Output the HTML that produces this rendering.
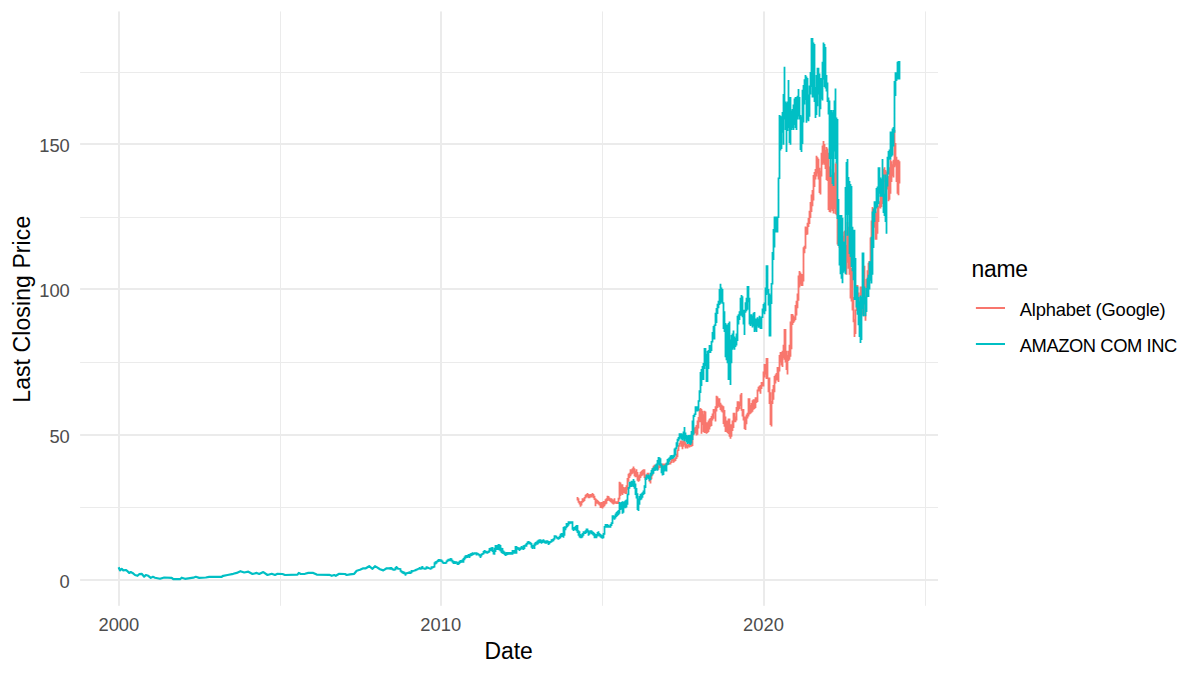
<!DOCTYPE html>
<html><head><meta charset="utf-8"><style>
html,body{margin:0;padding:0;background:#fff;overflow:hidden;}
svg{display:block;}
text{font-family:"Liberation Sans",sans-serif;}
</style></head><body>
<svg width="1200" height="675" viewBox="0 0 1200 675">
<rect width="1200" height="675" fill="#fff"/>
<rect x="80.1" y="72" width="857.90" height="1" fill="#EBEBEB"/><rect x="80.1" y="217" width="857.90" height="1" fill="#EBEBEB"/><rect x="80.1" y="362" width="857.90" height="1" fill="#EBEBEB"/><rect x="80.1" y="507" width="857.90" height="1" fill="#EBEBEB"/><rect x="280" y="11.46" width="1" height="594.34" fill="#EBEBEB"/><rect x="602" y="11.46" width="1" height="594.34" fill="#EBEBEB"/><rect x="925" y="11.46" width="1" height="594.34" fill="#EBEBEB"/><rect x="80.1" y="579" width="857.90" height="2" fill="#EBEBEB"/><rect x="80.1" y="434" width="857.90" height="2" fill="#EBEBEB"/><rect x="80.1" y="288" width="857.90" height="2" fill="#EBEBEB"/><rect x="80.1" y="143" width="857.90" height="2" fill="#EBEBEB"/><rect x="118" y="11.46" width="2" height="594.34" fill="#EBEBEB"/><rect x="440" y="11.46" width="2" height="594.34" fill="#EBEBEB"/><rect x="763" y="11.46" width="2" height="594.34" fill="#EBEBEB"/>
<g fill="none" stroke-width="2.2" stroke-linejoin="round" stroke-linecap="butt"></g><path d="M576.6,497.0h1.8V500.6h-1.8zM577.6,498.3h1.8V502.8h-1.8zM578.6,501.0h1.8V504.6h-1.8zM579.6,501.9h1.8V506.8h-1.8zM580.6,501.0h1.8V505.4h-1.8zM581.6,498.3h1.8V502.8h-1.8zM582.6,498.3h1.8V501.9h-1.8zM583.6,497.1h1.8V501.0h-1.8zM584.6,494.8h1.8V498.6h-1.8zM585.6,493.9h1.8V497.4h-1.8zM586.6,493.0h1.8V496.6h-1.8zM587.6,493.9h1.8V498.3h-1.8zM588.6,494.8h1.8V498.3h-1.8zM589.6,493.9h1.8V497.4h-1.8zM590.6,493.9h1.8V497.4h-1.8zM591.6,493.0h1.8V496.6h-1.8zM592.6,493.9h1.8V498.3h-1.8zM593.6,495.7h1.8V500.1h-1.8zM594.6,498.3h1.8V506.3h-1.8zM595.6,499.2h1.8V503.7h-1.8zM596.6,500.1h1.8V503.7h-1.8zM597.6,501.0h1.8V504.6h-1.8zM598.6,501.9h1.8V505.4h-1.8zM599.6,502.8h1.8V508.1h-1.8zM600.6,501.9h1.8V508.1h-1.8zM601.6,501.9h1.8V508.6h-1.8zM602.6,501.0h1.8V507.2h-1.8zM603.6,501.0h1.8V506.3h-1.8zM604.6,499.2h1.8V504.6h-1.8zM605.6,498.3h1.8V503.7h-1.8zM606.6,495.7h1.8V501.0h-1.8zM607.6,496.1h1.8V500.1h-1.8zM608.6,497.4h1.8V501.0h-1.8zM609.6,498.3h1.8V501.9h-1.8zM610.6,498.3h1.8V502.8h-1.8zM611.6,499.2h1.8V503.7h-1.8zM612.6,500.1h1.8V504.6h-1.8zM613.6,498.3h1.8V503.7h-1.8zM614.6,501.2h1.8V503.4h-1.8zM615.6,501.2h1.8V503.9h-1.8zM616.6,501.2h1.8V503.9h-1.8zM617.6,497.7h1.8V503.9h-1.8zM618.6,481.7h1.8V499.4h-1.8zM619.6,482.6h1.8V495.9h-1.8zM620.6,484.3h1.8V494.1h-1.8zM621.6,484.3h1.8V495.0h-1.8zM622.6,487.0h1.8V493.2h-1.8zM623.6,487.9h1.8V493.2h-1.8zM624.6,487.0h1.8V494.1h-1.8zM625.6,485.2h1.8V494.1h-1.8zM626.6,478.1h1.8V489.7h-1.8zM627.6,473.7h1.8V481.7h-1.8zM628.6,472.8h1.8V478.1h-1.8zM629.6,469.2h1.8V476.3h-1.8zM630.6,469.2h1.8V474.6h-1.8zM631.6,468.3h1.8V473.7h-1.8zM632.6,466.6h1.8V472.8h-1.8zM633.6,468.3h1.8V476.3h-1.8zM634.6,471.0h1.8V477.2h-1.8zM635.6,469.2h1.8V477.2h-1.8zM636.6,471.9h1.8V480.8h-1.8zM637.6,475.4h1.8V481.7h-1.8zM638.6,474.6h1.8V480.8h-1.8zM639.6,471.9h1.8V478.1h-1.8zM640.6,471.0h1.8V476.3h-1.8zM641.6,470.1h1.8V475.4h-1.8zM642.6,469.2h1.8V474.6h-1.8zM643.6,469.2h1.8V478.1h-1.8zM644.6,475.4h1.8V479.9h-1.8zM645.6,474.6h1.8V477.2h-1.8zM646.6,472.8h1.8V478.1h-1.8zM647.6,472.8h1.8V478.1h-1.8zM648.6,476.3h1.8V481.7h-1.8zM649.6,477.8h1.8V483.4h-1.8zM650.6,472.8h1.8V479.3h-1.8zM651.6,468.3h1.8V475.4h-1.8zM652.6,465.7h1.8V470.1h-1.8zM653.6,464.8h1.8V469.2h-1.8zM654.6,466.2h1.8V468.9h-1.8zM655.6,465.8h1.8V469.2h-1.8zM656.6,465.5h1.8V469.5h-1.8zM657.6,465.3h1.8V469.8h-1.8zM658.6,463.6h1.8V468.0h-1.8zM659.6,463.6h1.8V467.8h-1.8zM660.6,463.6h1.8V467.6h-1.8zM661.6,463.6h1.8V467.4h-1.8zM662.6,463.6h1.8V467.2h-1.8zM663.6,463.6h1.8V467.1h-1.8zM664.6,463.6h1.8V467.1h-1.8zM665.6,462.7h1.8V465.3h-1.8zM666.6,462.7h1.8V465.0h-1.8zM667.6,462.7h1.8V464.7h-1.8zM668.6,462.7h1.8V464.4h-1.8zM669.6,461.5h1.8V464.4h-1.8zM670.6,458.2h1.8V463.0h-1.8zM671.6,458.2h1.8V460.9h-1.8zM672.6,458.2h1.8V462.7h-1.8zM673.6,458.2h1.8V461.8h-1.8zM674.6,457.3h1.8V460.9h-1.8zM675.6,453.8h1.8V459.1h-1.8zM676.6,449.4h1.8V457.3h-1.8zM677.6,444.9h1.8V450.9h-1.8zM678.6,442.8h1.8V446.7h-1.8zM679.6,440.4h1.8V444.3h-1.8zM680.6,440.4h1.8V446.7h-1.8zM681.6,441.3h1.8V449.3h-1.8zM682.6,440.4h1.8V446.7h-1.8zM683.6,439.6h1.8V444.9h-1.8zM684.6,442.2h1.8V448.4h-1.8zM685.6,444.0h1.8V447.6h-1.8zM686.6,444.9h1.8V448.4h-1.8zM687.6,444.0h1.8V446.7h-1.8zM688.6,444.0h1.8V447.6h-1.8zM689.6,444.0h1.8V446.7h-1.8zM690.6,443.1h1.8V446.7h-1.8zM691.6,433.8h1.8V446.0h-1.8zM692.6,428.9h1.8V435.2h-1.8zM693.6,427.6h1.8V433.8h-1.8zM694.6,426.7h1.8V433.0h-1.8zM695.6,425.0h1.8V435.6h-1.8zM696.6,420.5h1.8V434.7h-1.8zM697.6,417.0h1.8V428.5h-1.8zM698.6,409.0h1.8V422.3h-1.8zM699.6,408.0h1.8V422.3h-1.8zM700.6,409.0h1.8V433.8h-1.8zM701.6,410.8h1.8V425.0h-1.8zM702.6,414.3h1.8V432.0h-1.8zM703.6,410.8h1.8V433.0h-1.8zM704.6,411.6h1.8V433.0h-1.8zM705.6,422.3h1.8V433.8h-1.8zM706.6,422.3h1.8V433.0h-1.8zM707.6,420.5h1.8V432.0h-1.8zM708.6,418.7h1.8V429.4h-1.8zM709.6,417.9h1.8V426.7h-1.8zM710.6,416.0h1.8V425.9h-1.8zM711.6,413.4h1.8V420.5h-1.8zM712.6,409.0h1.8V418.7h-1.8zM713.6,409.0h1.8V413.4h-1.8zM714.6,406.3h1.8V421.4h-1.8zM715.6,395.7h1.8V411.6h-1.8zM716.6,396.5h1.8V408.0h-1.8zM717.6,398.3h1.8V406.3h-1.8zM718.6,398.3h1.8V407.2h-1.8zM719.6,402.8h1.8V409.9h-1.8zM720.6,404.5h1.8V411.6h-1.8zM721.6,405.4h1.8V412.5h-1.8zM722.6,406.3h1.8V424.0h-1.8zM723.6,409.9h1.8V426.7h-1.8zM724.6,416.6h1.8V432.0h-1.8zM725.6,420.4h1.8V432.0h-1.8zM726.6,420.4h1.8V433.0h-1.8zM727.6,418.5h1.8V433.9h-1.8zM728.6,418.5h1.8V436.8h-1.8zM729.6,424.3h1.8V438.7h-1.8zM730.6,424.3h1.8V436.8h-1.8zM731.6,420.4h1.8V431.0h-1.8zM732.6,412.7h1.8V428.1h-1.8zM733.6,412.7h1.8V422.3h-1.8zM734.6,416.6h1.8V422.3h-1.8zM735.6,407.0h1.8V420.4h-1.8zM736.6,401.2h1.8V411.8h-1.8zM737.6,401.2h1.8V410.8h-1.8zM738.6,402.1h1.8V408.9h-1.8zM739.6,394.4h1.8V406.0h-1.8zM740.6,393.0h1.8V410.8h-1.8zM741.6,408.9h1.8V416.6h-1.8zM742.6,408.9h1.8V420.4h-1.8zM743.6,416.6h1.8V429.1h-1.8zM744.6,416.6h1.8V430.0h-1.8zM745.6,414.6h1.8V424.3h-1.8zM746.6,412.7h1.8V418.5h-1.8zM747.6,398.3h1.8V416.6h-1.8zM748.6,398.3h1.8V414.6h-1.8zM749.6,405.0h1.8V413.7h-1.8zM750.6,403.1h1.8V412.7h-1.8zM751.6,400.2h1.8V411.8h-1.8zM752.6,399.2h1.8V409.8h-1.8zM753.6,399.2h1.8V408.9h-1.8zM754.6,397.3h1.8V407.9h-1.8zM755.6,397.3h1.8V403.1h-1.8zM756.6,389.6h1.8V402.1h-1.8zM757.6,386.7h1.8V391.5h-1.8zM758.6,385.8h1.8V391.5h-1.8zM759.6,385.0h1.8V393.8h-1.8zM760.6,382.0h1.8V389.0h-1.8zM761.6,382.0h1.8V386.4h-1.8zM762.6,371.5h1.8V386.4h-1.8zM763.6,364.0h1.8V377.5h-1.8zM764.6,364.0h1.8V374.5h-1.8zM765.6,358.0h1.8V379.0h-1.8zM766.6,358.0h1.8V379.0h-1.8zM767.6,377.5h1.8V392.3h-1.8zM768.6,377.5h1.8V404.0h-1.8zM769.6,392.3h1.8V425.0h-1.8zM770.6,401.0h1.8V426.4h-1.8zM771.6,389.3h1.8V404.0h-1.8zM772.6,385.0h1.8V399.7h-1.8zM773.6,376.0h1.8V392.3h-1.8zM774.6,374.5h1.8V383.4h-1.8zM775.6,373.0h1.8V380.4h-1.8zM776.6,367.0h1.8V380.4h-1.8zM777.6,367.0h1.8V382.0h-1.8zM778.6,355.0h1.8V371.5h-1.8zM779.6,352.0h1.8V362.6h-1.8zM780.6,352.0h1.8V365.6h-1.8zM781.6,350.8h1.8V367.0h-1.8zM782.6,344.8h1.8V358.0h-1.8zM783.6,329.0h1.8V359.7h-1.8zM784.6,329.0h1.8V362.6h-1.8zM785.6,350.8h1.8V370.0h-1.8zM786.6,355.0h1.8V374.5h-1.8zM787.6,350.8h1.8V361.0h-1.8zM788.6,344.8h1.8V359.7h-1.8zM789.6,321.6h1.8V356.7h-1.8zM790.6,314.0h1.8V349.3h-1.8zM791.6,314.0h1.8V325.0h-1.8zM792.6,315.6h1.8V323.0h-1.8zM793.6,317.0h1.8V321.6h-1.8zM794.6,305.0h1.8V320.0h-1.8zM795.6,300.8h1.8V315.6h-1.8zM796.6,293.4h1.8V308.2h-1.8zM797.6,275.5h1.8V300.8h-1.8zM798.6,271.0h1.8V287.4h-1.8zM799.6,272.5h1.8V284.4h-1.8zM800.6,274.0h1.8V286.0h-1.8zM801.6,274.0h1.8V286.0h-1.8zM802.6,247.3h1.8V281.5h-1.8zM803.6,245.8h1.8V253.2h-1.8zM804.6,226.5h1.8V248.8h-1.8zM805.6,227.0h1.8V235.0h-1.8zM806.6,222.7h1.8V234.6h-1.8zM807.6,218.0h1.8V227.0h-1.8zM808.6,210.8h1.8V224.0h-1.8zM809.6,202.0h1.8V218.0h-1.8zM810.6,194.4h1.8V212.0h-1.8zM811.6,190.0h1.8V206.3h-1.8zM812.6,175.0h1.8V200.4h-1.8zM813.6,172.0h1.8V187.0h-1.8zM814.6,169.0h1.8V179.6h-1.8zM815.6,155.8h1.8V176.6h-1.8zM816.6,157.3h1.8V173.6h-1.8zM817.6,158.8h1.8V179.6h-1.8zM818.6,167.7h1.8V193.0h-1.8zM819.6,170.7h1.8V194.4h-1.8zM820.6,152.8h1.8V176.6h-1.8zM821.6,145.4h1.8V164.7h-1.8zM822.6,141.0h1.8V163.2h-1.8zM823.6,144.0h1.8V164.7h-1.8zM824.6,149.9h1.8V169.0h-1.8zM825.6,147.0h1.8V180.0h-1.8zM826.6,148.6h1.8V181.0h-1.8zM827.6,152.8h1.8V210.0h-1.8zM828.6,166.5h1.8V212.0h-1.8zM829.6,175.0h1.8V212.6h-1.8zM830.6,175.0h1.8V209.0h-1.8zM831.6,169.0h1.8V211.0h-1.8zM832.6,184.0h1.8V213.4h-1.8zM833.6,172.4h1.8V209.0h-1.8zM834.6,163.5h1.8V214.0h-1.8zM835.6,162.0h1.8V215.2h-1.8zM836.6,213.8h1.8V244.6h-1.8zM837.6,222.0h1.8V246.0h-1.8zM838.6,225.0h1.8V248.0h-1.8zM839.6,225.0h1.8V250.0h-1.8zM840.6,228.0h1.8V250.0h-1.8zM841.6,232.0h1.8V245.0h-1.8zM842.6,235.7h1.8V243.0h-1.8zM843.6,231.0h1.8V241.6h-1.8zM844.6,230.0h1.8V260.0h-1.8zM845.6,245.0h1.8V274.7h-1.8zM846.6,222.0h1.8V262.8h-1.8zM847.6,226.7h1.8V268.8h-1.8zM848.6,252.0h1.8V274.7h-1.8zM849.6,256.5h1.8V298.5h-1.8zM850.6,268.0h1.8V301.5h-1.8zM851.6,271.0h1.8V310.4h-1.8zM852.6,297.0h1.8V322.3h-1.8zM853.6,319.3h1.8V337.0h-1.8zM854.6,309.6h1.8V334.0h-1.8zM855.6,285.0h1.8V311.1h-1.8zM856.6,285.0h1.8V300.0h-1.8zM857.6,292.5h1.8V303.0h-1.8zM858.6,301.5h1.8V310.4h-1.8zM859.6,286.6h1.8V304.4h-1.8zM860.6,286.6h1.8V296.2h-1.8zM861.6,294.8h1.8V314.8h-1.8zM862.6,297.8h1.8V316.3h-1.8zM863.6,265.8h1.8V301.1h-1.8zM864.6,296.1h1.8V320.8h-1.8zM865.6,279.0h1.8V297.6h-1.8zM866.6,270.3h1.8V282.0h-1.8zM867.6,262.8h1.8V279.0h-1.8zM868.6,260.9h1.8V274.7h-1.8zM869.6,237.6h1.8V262.4h-1.8zM870.6,220.4h1.8V239.1h-1.8zM871.6,207.0h1.8V227.8h-1.8zM872.6,208.6h1.8V219.0h-1.8zM873.6,210.0h1.8V227.8h-1.8zM874.6,211.6h1.8V239.7h-1.8zM875.6,213.0h1.8V239.7h-1.8zM876.6,207.0h1.8V233.8h-1.8zM877.6,206.2h1.8V222.0h-1.8zM878.6,201.2h1.8V207.8h-1.8zM879.6,195.3h1.8V208.6h-1.8zM880.6,192.3h1.8V207.0h-1.8zM881.6,189.4h1.8V204.0h-1.8zM882.6,168.7h1.8V198.3h-1.8zM883.6,167.2h1.8V182.0h-1.8zM884.6,170.0h1.8V195.3h-1.8zM885.6,171.6h1.8V189.4h-1.8zM886.6,176.0h1.8V189.4h-1.8zM887.6,176.0h1.8V201.2h-1.8zM888.6,167.2h1.8V199.7h-1.8zM889.6,159.8h1.8V193.8h-1.8zM890.6,161.3h1.8V182.0h-1.8zM891.6,164.2h1.8V176.0h-1.8zM892.6,159.8h1.8V177.5h-1.8zM893.6,130.0h1.8V167.2h-1.8zM894.6,143.0h1.8V165.7h-1.8zM895.6,156.8h1.8V182.0h-1.8zM896.6,159.8h1.8V193.8h-1.8zM897.6,159.8h1.8V195.3h-1.8zM898.6,161.3h1.8V183.5h-1.8z" fill="#F8766D"/><g fill="none" stroke-width="2.2" stroke-linejoin="round" stroke-linecap="butt"><path d="M118.6,567.2 L120.0,570.4 L121.7,568.8 L123.3,570.4 L125.8,570.0 L127.5,571.2 L129.2,572.9 L130.8,572.1 L132.5,572.9 L135.0,575.0 L137.5,575.8 L139.2,574.2 L141.7,573.8 L144.2,576.7 L145.8,575.0 L148.3,575.8 L150.8,577.9 L152.9,576.8 L155.0,577.7 L160.0,578.8 L164.2,577.5 L171.7,577.9 L173.3,579.2 L180.0,579.2 L181.7,577.7 L185.0,578.8 L193.3,577.7 L195.8,576.8 L199.2,577.9 L205.8,577.5 L209.2,576.8 L221.7,576.8 L223.3,575.8 L227.5,575.0 L233.3,573.8 L236.7,572.9 L240.4,571.2 L244.2,572.5 L248.3,571.7 L252.5,574.0 L256.7,572.9 L259.2,574.0 L263.3,572.1 L267.5,575.0 L271.7,573.8 L275.0,575.0 L277.5,573.8 L282.5,574.0 L285.0,575.0 L297.5,574.6 L298.8,572.9 L300.8,574.0 L305.0,573.8 L308.3,572.9 L313.3,572.9 L316.7,574.6 L329.2,574.8 L331.7,575.8 L334.2,575.0 L335.8,575.8 L339.2,573.8 L345.0,574.0 L346.7,575.0 L350.0,574.3 L354.2,573.8 L356.7,570.8 L360.0,569.8 L363.3,568.3 L365.8,568.3 L369.2,566.2 L372.5,568.8 L375.0,566.2 L376.7,567.1 L380.0,569.2 L383.3,570.4 L386.7,568.3 L390.5,568.4" stroke="#00BFC4"/></g><path d="M389.6,567.1h1.8V569.7h-1.8zM390.6,567.1h1.8V569.7h-1.8zM391.6,567.9h1.8V570.2h-1.8zM392.6,568.7h1.8V570.7h-1.8zM393.6,568.4h1.8V570.7h-1.8zM394.6,567.1h1.8V570.2h-1.8zM395.6,566.1h1.8V568.9h-1.8zM396.6,567.1h1.8V569.5h-1.8zM397.6,567.9h1.8V569.7h-1.8zM398.6,567.9h1.8V569.7h-1.8zM399.6,568.2h1.8V571.8h-1.8zM400.6,570.2h1.8V572.8h-1.8zM401.6,571.0h1.8V573.6h-1.8zM402.6,571.3h1.8V573.9h-1.8zM403.6,571.8h1.8V574.4h-1.8zM404.6,572.8h1.8V575.7h-1.8zM405.6,572.3h1.8V574.4h-1.8zM406.6,572.0h1.8V573.9h-1.8zM407.6,571.8h1.8V573.9h-1.8zM408.6,571.3h1.8V573.9h-1.8zM409.6,571.8h1.8V573.9h-1.8zM410.6,570.0h1.8V573.3h-1.8zM411.6,570.2h1.8V572.3h-1.8zM412.6,570.1h1.8V571.8h-1.8zM413.6,569.7h1.8V571.6h-1.8zM414.6,568.9h1.8V571.3h-1.8zM415.6,568.8h1.8V570.7h-1.8zM416.6,568.2h1.8V570.3h-1.8zM417.6,567.9h1.8V569.7h-1.8zM418.6,567.1h1.8V569.5h-1.8zM419.6,567.9h1.8V569.7h-1.8zM420.6,566.6h1.8V569.5h-1.8zM421.6,566.1h1.8V569.2h-1.8zM422.6,567.4h1.8V569.2h-1.8zM423.6,567.6h1.8V569.7h-1.8zM424.6,567.6h1.8V569.7h-1.8zM425.6,566.3h1.8V569.2h-1.8zM426.6,566.6h1.8V568.5h-1.8zM427.6,567.0h1.8V569.0h-1.8zM428.6,567.5h1.8V569.3h-1.8zM429.6,567.8h1.8V569.7h-1.8zM430.6,566.3h1.8V569.2h-1.8zM431.6,566.3h1.8V568.4h-1.8zM432.6,565.9h1.8V567.9h-1.8zM433.6,562.2h1.8V567.4h-1.8zM434.6,561.2h1.8V564.5h-1.8zM435.6,560.9h1.8V563.7h-1.8zM436.6,560.1h1.8V562.4h-1.8zM437.6,559.1h1.8V561.9h-1.8zM438.6,559.1h1.8V561.4h-1.8zM439.6,559.2h1.8V561.8h-1.8zM440.6,559.5h1.8V562.0h-1.8zM441.6,560.5h1.8V563.3h-1.8zM442.6,561.8h1.8V563.9h-1.8zM443.6,562.0h1.8V563.9h-1.8zM444.6,561.9h1.8V563.9h-1.8zM445.6,560.6h1.8V563.4h-1.8zM446.6,559.5h1.8V562.1h-1.8zM447.6,558.7h1.8V561.3h-1.8zM448.6,558.7h1.8V561.3h-1.8zM449.6,557.9h1.8V561.3h-1.8zM450.6,558.2h1.8V561.5h-1.8zM451.6,559.7h1.8V562.8h-1.8zM452.6,560.7h1.8V563.9h-1.8zM453.6,561.0h1.8V563.9h-1.8zM454.6,561.3h1.8V563.9h-1.8zM455.6,561.3h1.8V563.6h-1.8zM456.6,562.0h1.8V564.9h-1.8zM457.6,561.8h1.8V564.9h-1.8zM458.6,560.7h1.8V563.9h-1.8zM459.6,560.0h1.8V563.1h-1.8zM460.6,560.0h1.8V562.8h-1.8zM461.6,559.2h1.8V562.8h-1.8zM462.6,557.9h1.8V562.8h-1.8zM463.6,556.6h1.8V560.2h-1.8zM464.6,555.3h1.8V558.7h-1.8zM465.6,555.0h1.8V557.9h-1.8zM466.6,555.0h1.8V557.9h-1.8zM467.6,554.0h1.8V557.1h-1.8zM468.6,554.0h1.8V557.9h-1.8zM469.6,553.2h1.8V556.6h-1.8zM470.6,553.0h1.8V556.1h-1.8zM471.6,552.2h1.8V555.6h-1.8zM472.6,553.1h1.8V555.0h-1.8zM473.6,552.2h1.8V554.6h-1.8zM474.6,552.2h1.8V554.5h-1.8zM475.6,552.2h1.8V555.6h-1.8zM476.6,552.7h1.8V554.8h-1.8zM477.6,553.2h1.8V555.6h-1.8zM478.6,554.0h1.8V556.6h-1.8zM479.6,554.5h1.8V557.9h-1.8zM480.6,553.5h1.8V556.6h-1.8zM481.6,553.0h1.8V555.0h-1.8zM482.6,550.9h1.8V554.5h-1.8zM483.6,550.1h1.8V553.5h-1.8zM484.6,550.4h1.8V553.0h-1.8zM485.6,550.9h1.8V553.5h-1.8zM486.6,551.4h1.8V553.7h-1.8zM487.6,550.4h1.8V553.0h-1.8zM488.6,548.0h1.8V552.4h-1.8zM489.6,547.8h1.8V550.9h-1.8zM490.6,547.3h1.8V550.9h-1.8zM491.6,547.0h1.8V552.0h-1.8zM492.6,549.9h1.8V554.6h-1.8zM493.6,547.8h1.8V554.8h-1.8zM494.6,545.0h1.8V552.0h-1.8zM495.6,545.0h1.8V549.9h-1.8zM496.6,545.0h1.8V549.9h-1.8zM497.6,543.9h1.8V549.9h-1.8zM498.6,544.2h1.8V550.4h-1.8zM499.6,545.0h1.8V551.5h-1.8zM500.6,547.8h1.8V553.0h-1.8zM501.6,548.1h1.8V553.8h-1.8zM502.6,550.4h1.8V554.0h-1.8zM503.6,551.5h1.8V555.1h-1.8zM504.6,552.5h1.8V555.9h-1.8zM505.6,552.0h1.8V555.6h-1.8zM506.6,552.0h1.8V555.1h-1.8zM507.6,552.0h1.8V554.8h-1.8zM508.6,552.0h1.8V554.8h-1.8zM509.6,552.0h1.8V554.8h-1.8zM510.6,552.0h1.8V554.8h-1.8zM511.6,549.9h1.8V554.8h-1.8zM512.6,549.9h1.8V553.8h-1.8zM513.6,549.9h1.8V553.8h-1.8zM514.6,546.0h1.8V553.8h-1.8zM515.6,546.0h1.8V553.8h-1.8zM516.6,547.0h1.8V549.4h-1.8zM517.6,547.3h1.8V549.9h-1.8zM518.6,547.8h1.8V550.9h-1.8zM519.6,547.3h1.8V549.9h-1.8zM520.6,546.0h1.8V548.9h-1.8zM521.6,546.8h1.8V549.4h-1.8zM522.6,545.2h1.8V549.9h-1.8zM523.6,545.0h1.8V548.9h-1.8zM524.6,544.2h1.8V546.8h-1.8zM525.6,542.9h1.8V546.8h-1.8zM526.6,541.6h1.8V544.7h-1.8zM527.6,541.1h1.8V543.7h-1.8zM528.6,541.6h1.8V544.2h-1.8zM529.6,542.1h1.8V544.7h-1.8zM530.6,542.9h1.8V547.8h-1.8zM531.6,544.7h1.8V548.9h-1.8zM532.6,544.7h1.8V547.8h-1.8zM533.6,543.2h1.8V548.9h-1.8zM534.6,542.1h1.8V545.7h-1.8zM535.6,541.6h1.8V544.7h-1.8zM536.6,540.6h1.8V544.7h-1.8zM537.6,539.8h1.8V543.8h-1.8zM538.6,539.3h1.8V543.0h-1.8zM539.6,539.3h1.8V543.0h-1.8zM540.6,540.3h1.8V543.7h-1.8zM541.6,539.7h1.8V543.0h-1.8zM542.6,539.3h1.8V542.3h-1.8zM543.6,540.3h1.8V543.3h-1.8zM544.6,541.0h1.8V543.7h-1.8zM545.6,540.3h1.8V543.7h-1.8zM546.6,540.3h1.8V543.0h-1.8zM547.6,541.0h1.8V545.0h-1.8zM548.6,541.3h1.8V544.3h-1.8zM549.6,540.9h1.8V543.0h-1.8zM550.6,539.3h1.8V542.4h-1.8zM551.6,539.0h1.8V541.7h-1.8zM552.6,538.2h1.8V541.3h-1.8zM553.6,535.3h1.8V539.8h-1.8zM554.6,535.3h1.8V537.2h-1.8zM555.6,535.8h1.8V538.4h-1.8zM556.6,536.9h1.8V539.3h-1.8zM557.6,537.0h1.8V539.7h-1.8zM558.6,535.7h1.8V539.0h-1.8zM559.6,533.7h1.8V538.3h-1.8zM560.6,533.0h1.8V537.0h-1.8zM561.6,533.0h1.8V537.0h-1.8zM562.6,527.0h1.8V537.7h-1.8zM563.6,526.3h1.8V535.7h-1.8zM564.6,526.3h1.8V530.3h-1.8zM565.6,523.0h1.8V528.3h-1.8zM566.6,523.0h1.8V527.0h-1.8zM567.6,521.3h1.8V525.7h-1.8zM568.6,521.3h1.8V524.3h-1.8zM569.6,521.3h1.8V523.7h-1.8zM570.6,521.3h1.8V523.7h-1.8zM571.6,521.3h1.8V529.7h-1.8zM572.6,527.0h1.8V531.0h-1.8zM573.6,527.0h1.8V530.3h-1.8zM574.6,525.9h1.8V530.3h-1.8zM575.6,525.0h1.8V531.2h-1.8zM576.6,525.0h1.8V533.0h-1.8zM577.6,530.3h1.8V535.7h-1.8zM578.6,531.2h1.8V537.4h-1.8zM579.6,533.9h1.8V538.3h-1.8zM580.6,534.8h1.8V538.3h-1.8zM581.6,533.0h1.8V537.4h-1.8zM582.6,531.2h1.8V535.7h-1.8zM583.6,531.2h1.8V533.9h-1.8zM584.6,530.3h1.8V533.9h-1.8zM585.6,528.6h1.8V533.0h-1.8zM586.6,528.6h1.8V532.1h-1.8zM587.6,530.3h1.8V535.7h-1.8zM588.6,531.2h1.8V534.8h-1.8zM589.6,530.3h1.8V533.0h-1.8zM590.6,530.3h1.8V533.9h-1.8zM591.6,531.2h1.8V534.8h-1.8zM592.6,532.1h1.8V535.7h-1.8zM593.6,533.0h1.8V538.3h-1.8zM594.6,533.9h1.8V538.3h-1.8zM595.6,533.9h1.8V538.3h-1.8zM596.6,532.1h1.8V536.6h-1.8zM597.6,531.2h1.8V535.7h-1.8zM598.6,533.0h1.8V536.6h-1.8zM599.6,533.9h1.8V537.4h-1.8zM600.6,534.8h1.8V538.3h-1.8zM601.6,534.8h1.8V538.8h-1.8zM602.6,533.0h1.8V538.3h-1.8zM603.6,525.9h1.8V534.8h-1.8zM604.6,524.1h1.8V527.7h-1.8zM605.6,524.1h1.8V527.7h-1.8zM606.6,524.1h1.8V527.7h-1.8zM607.6,525.0h1.8V527.7h-1.8zM608.6,525.9h1.8V527.7h-1.8zM609.6,524.1h1.8V527.7h-1.8zM610.6,522.3h1.8V525.9h-1.8zM611.6,515.2h1.8V524.1h-1.8zM612.6,515.2h1.8V518.8h-1.8zM613.6,516.1h1.8V519.7h-1.8zM614.6,513.5h1.8V518.5h-1.8zM615.6,512.0h1.8V517.0h-1.8zM616.6,511.0h1.8V516.0h-1.8zM617.6,510.1h1.8V515.0h-1.8zM618.6,502.1h1.8V513.7h-1.8zM619.6,503.0h1.8V510.1h-1.8zM620.6,502.1h1.8V509.2h-1.8zM621.6,501.2h1.8V513.7h-1.8zM622.6,502.1h1.8V512.8h-1.8zM623.6,501.2h1.8V508.3h-1.8zM624.6,500.3h1.8V508.3h-1.8zM625.6,499.4h1.8V507.4h-1.8zM626.6,493.8h1.8V504.8h-1.8zM627.6,487.0h1.8V495.3h-1.8zM628.6,481.7h1.8V488.8h-1.8zM629.6,481.7h1.8V487.0h-1.8zM630.6,480.8h1.8V487.0h-1.8zM631.6,480.8h1.8V486.1h-1.8zM632.6,479.0h1.8V487.0h-1.8zM633.6,480.8h1.8V488.8h-1.8zM634.6,483.4h1.8V495.0h-1.8zM635.6,487.9h1.8V498.6h-1.8zM636.6,493.2h1.8V510.1h-1.8zM637.6,498.6h1.8V511.0h-1.8zM638.6,495.9h1.8V504.8h-1.8zM639.6,494.1h1.8V500.3h-1.8zM640.6,493.2h1.8V499.4h-1.8zM641.6,492.3h1.8V497.7h-1.8zM642.6,490.6h1.8V495.0h-1.8zM643.6,485.2h1.8V494.1h-1.8zM644.6,477.2h1.8V487.9h-1.8zM645.6,474.6h1.8V479.9h-1.8zM646.6,475.4h1.8V478.1h-1.8zM647.6,474.6h1.8V479.0h-1.8zM648.6,475.4h1.8V480.8h-1.8zM649.6,472.8h1.8V479.9h-1.8zM650.6,470.1h1.8V476.3h-1.8zM651.6,468.3h1.8V474.6h-1.8zM652.6,467.4h1.8V473.7h-1.8zM653.6,466.6h1.8V471.0h-1.8zM654.6,464.4h1.8V470.7h-1.8zM655.6,463.6h1.8V469.8h-1.8zM656.6,460.0h1.8V470.7h-1.8zM657.6,456.9h1.8V464.4h-1.8zM658.6,457.3h1.8V465.3h-1.8zM659.6,458.2h1.8V466.2h-1.8zM660.6,463.6h1.8V473.3h-1.8zM661.6,465.3h1.8V475.6h-1.8zM662.6,466.2h1.8V475.1h-1.8zM663.6,465.3h1.8V471.6h-1.8zM664.6,464.4h1.8V470.7h-1.8zM665.6,462.7h1.8V471.6h-1.8zM666.6,459.1h1.8V465.3h-1.8zM667.6,458.2h1.8V464.4h-1.8zM668.6,457.3h1.8V461.8h-1.8zM669.6,455.6h1.8V460.0h-1.8zM670.6,455.1h1.8V459.1h-1.8zM671.6,455.6h1.8V459.1h-1.8zM672.6,454.7h1.8V458.2h-1.8zM673.6,448.4h1.8V457.3h-1.8zM674.6,447.6h1.8V455.6h-1.8zM675.6,442.2h1.8V449.3h-1.8zM676.6,438.7h1.8V446.7h-1.8zM677.6,436.9h1.8V441.3h-1.8zM678.6,433.3h1.8V439.6h-1.8zM679.6,433.3h1.8V437.8h-1.8zM680.6,433.3h1.8V439.6h-1.8zM681.6,434.2h1.8V440.4h-1.8zM682.6,431.6h1.8V439.6h-1.8zM683.6,427.1h1.8V441.3h-1.8zM684.6,432.4h1.8V439.6h-1.8zM685.6,435.1h1.8V442.2h-1.8zM686.6,436.0h1.8V444.0h-1.8zM687.6,435.1h1.8V443.1h-1.8zM688.6,435.1h1.8V444.0h-1.8zM689.6,434.7h1.8V445.0h-1.8zM690.6,431.0h1.8V443.6h-1.8zM691.6,420.5h1.8V440.0h-1.8zM692.6,415.0h1.8V434.7h-1.8zM693.6,413.6h1.8V417.0h-1.8zM694.6,406.3h1.8V415.1h-1.8zM695.6,406.3h1.8V411.6h-1.8zM696.6,406.3h1.8V411.6h-1.8zM697.6,400.2h1.8V410.8h-1.8zM698.6,390.3h1.8V401.8h-1.8zM699.6,372.0h1.8V393.0h-1.8zM700.6,369.0h1.8V386.0h-1.8zM701.6,366.0h1.8V380.0h-1.8zM702.6,363.0h1.8V380.0h-1.8zM703.6,348.0h1.8V369.0h-1.8zM704.6,348.0h1.8V366.0h-1.8zM705.6,354.0h1.8V382.0h-1.8zM706.6,351.0h1.8V382.0h-1.8zM707.6,350.0h1.8V369.0h-1.8zM708.6,345.0h1.8V353.0h-1.8zM709.6,345.0h1.8V353.0h-1.8zM710.6,340.9h1.8V351.0h-1.8zM711.6,332.0h1.8V342.4h-1.8zM712.6,326.0h1.8V339.4h-1.8zM713.6,324.6h1.8V339.4h-1.8zM714.6,312.7h1.8V326.1h-1.8zM715.6,308.0h1.8V323.0h-1.8zM716.6,303.8h1.8V314.0h-1.8zM717.6,300.8h1.8V308.2h-1.8zM718.6,289.0h1.8V305.0h-1.8zM719.6,283.7h1.8V303.8h-1.8zM720.6,287.4h1.8V302.3h-1.8zM721.6,289.0h1.8V303.8h-1.8zM722.6,302.3h1.8V329.0h-1.8zM723.6,311.2h1.8V332.0h-1.8zM724.6,323.0h1.8V357.3h-1.8zM725.6,324.6h1.8V360.2h-1.8zM726.6,324.6h1.8V363.2h-1.8zM727.6,323.0h1.8V380.0h-1.8zM728.6,321.6h1.8V380.0h-1.8zM729.6,339.4h1.8V385.0h-1.8zM730.6,335.0h1.8V363.2h-1.8zM731.6,333.5h1.8V349.8h-1.8zM732.6,330.5h1.8V348.3h-1.8zM733.6,336.5h1.8V349.8h-1.8zM734.6,338.0h1.8V346.9h-1.8zM735.6,333.5h1.8V345.4h-1.8zM736.6,315.7h1.8V341.0h-1.8zM737.6,314.2h1.8V324.6h-1.8zM738.6,311.2h1.8V320.0h-1.8zM739.6,297.8h1.8V315.7h-1.8zM740.6,294.9h1.8V315.7h-1.8zM741.6,296.3h1.8V317.2h-1.8zM742.6,309.7h1.8V324.6h-1.8zM743.6,309.7h1.8V335.0h-1.8zM744.6,302.3h1.8V312.7h-1.8zM745.6,297.8h1.8V311.2h-1.8zM746.6,286.0h1.8V309.7h-1.8zM747.6,286.0h1.8V302.3h-1.8zM748.6,297.8h1.8V324.6h-1.8zM749.6,314.2h1.8V326.0h-1.8zM750.6,314.2h1.8V324.6h-1.8zM751.6,315.7h1.8V327.5h-1.8zM752.6,312.7h1.8V326.0h-1.8zM753.6,312.0h1.8V332.0h-1.8zM754.6,318.6h1.8V330.5h-1.8zM755.6,318.6h1.8V332.0h-1.8zM756.6,317.3h1.8V326.2h-1.8zM757.6,318.8h1.8V327.7h-1.8zM758.6,315.8h1.8V327.7h-1.8zM759.6,317.3h1.8V329.0h-1.8zM760.6,316.6h1.8V329.0h-1.8zM761.6,308.4h1.8V318.1h-1.8zM762.6,304.0h1.8V312.8h-1.8zM763.6,302.4h1.8V314.3h-1.8zM764.6,287.5h1.8V311.3h-1.8zM765.6,265.3h1.8V295.0h-1.8zM766.6,265.3h1.8V293.5h-1.8zM767.6,289.0h1.8V305.4h-1.8zM768.6,293.5h1.8V336.6h-1.8zM769.6,295.0h1.8V336.6h-1.8zM770.6,283.0h1.8V304.0h-1.8zM771.6,251.9h1.8V284.6h-1.8zM772.6,229.0h1.8V260.0h-1.8zM773.6,216.5h1.8V247.4h-1.8zM774.6,216.5h1.8V232.5h-1.8zM775.6,216.5h1.8V232.5h-1.8zM776.6,216.5h1.8V232.5h-1.8zM777.6,177.4h1.8V218.0h-1.8zM778.6,115.0h1.8V179.0h-1.8zM779.6,115.7h1.8V150.6h-1.8zM780.6,116.5h1.8V149.0h-1.8zM781.6,112.0h1.8V132.8h-1.8zM782.6,94.0h1.8V144.7h-1.8zM783.6,66.7h1.8V119.4h-1.8zM784.6,101.6h1.8V130.0h-1.8zM785.6,103.0h1.8V152.0h-1.8zM786.6,101.6h1.8V131.0h-1.8zM787.6,80.0h1.8V128.0h-1.8zM788.6,97.0h1.8V143.0h-1.8zM789.6,97.0h1.8V144.7h-1.8zM790.6,110.5h1.8V130.0h-1.8zM791.6,109.0h1.8V128.0h-1.8zM792.6,104.6h1.8V130.0h-1.8zM793.6,98.6h1.8V125.0h-1.8zM794.6,97.0h1.8V128.0h-1.8zM795.6,97.0h1.8V130.0h-1.8zM796.6,95.7h1.8V119.4h-1.8zM797.6,89.0h1.8V116.5h-1.8zM798.6,97.0h1.8V119.4h-1.8zM799.6,115.0h1.8V150.0h-1.8zM800.6,116.5h1.8V152.0h-1.8zM801.6,89.7h1.8V144.0h-1.8zM802.6,85.0h1.8V122.4h-1.8zM803.6,79.3h1.8V104.6h-1.8zM804.6,74.9h1.8V100.0h-1.8zM805.6,76.6h1.8V122.7h-1.8zM806.6,78.0h1.8V119.7h-1.8zM807.6,94.4h1.8V121.2h-1.8zM808.6,85.5h1.8V116.7h-1.8zM809.6,72.0h1.8V94.4h-1.8zM810.6,38.0h1.8V87.0h-1.8zM811.6,38.0h1.8V97.4h-1.8zM812.6,42.4h1.8V97.4h-1.8zM813.6,44.0h1.8V101.9h-1.8zM814.6,87.0h1.8V118.0h-1.8zM815.6,75.0h1.8V115.0h-1.8zM816.6,67.7h1.8V106.3h-1.8zM817.6,67.7h1.8V94.4h-1.8zM818.6,73.6h1.8V116.7h-1.8zM819.6,78.0h1.8V109.3h-1.8zM820.6,78.0h1.8V99.0h-1.8zM821.6,61.7h1.8V100.4h-1.8zM822.6,42.4h1.8V79.6h-1.8zM823.6,44.0h1.8V87.0h-1.8zM824.6,47.0h1.8V88.5h-1.8zM825.6,75.0h1.8V91.5h-1.8zM826.6,82.5h1.8V101.9h-1.8zM827.6,97.4h1.8V114.5h-1.8zM828.6,100.4h1.8V159.0h-1.8zM829.6,110.0h1.8V177.0h-1.8zM830.6,110.0h1.8V159.0h-1.8zM831.6,112.3h1.8V184.0h-1.8zM832.6,110.0h1.8V186.0h-1.8zM833.6,100.4h1.8V151.6h-1.8zM834.6,88.5h1.8V159.0h-1.8zM835.6,117.4h1.8V163.5h-1.8zM836.6,119.0h1.8V219.0h-1.8zM837.6,199.0h1.8V246.0h-1.8zM838.6,214.9h1.8V265.4h-1.8zM839.6,214.9h1.8V274.3h-1.8zM840.6,214.9h1.8V278.8h-1.8zM841.6,217.8h1.8V283.2h-1.8zM842.6,241.6h1.8V272.8h-1.8zM843.6,241.6h1.8V271.3h-1.8zM844.6,187.0h1.8V274.3h-1.8zM845.6,162.0h1.8V214.9h-1.8zM846.6,159.0h1.8V235.7h-1.8zM847.6,177.0h1.8V214.9h-1.8zM848.6,181.0h1.8V254.0h-1.8zM849.6,184.0h1.8V257.0h-1.8zM850.6,186.0h1.8V267.0h-1.8zM851.6,226.7h1.8V271.3h-1.8zM852.6,229.7h1.8V280.2h-1.8zM853.6,229.7h1.8V300.0h-1.8zM854.6,258.0h1.8V300.0h-1.8zM855.6,286.6h1.8V307.4h-1.8zM856.6,286.6h1.8V314.8h-1.8zM857.6,297.0h1.8V325.2h-1.8zM858.6,301.5h1.8V337.0h-1.8zM859.6,295.5h1.8V343.0h-1.8zM860.6,297.0h1.8V340.0h-1.8zM861.6,252.4h1.8V309.0h-1.8zM862.6,252.4h1.8V316.3h-1.8zM863.6,286.6h1.8V304.4h-1.8zM864.6,297.0h1.8V316.3h-1.8zM865.6,288.0h1.8V312.0h-1.8zM866.6,277.7h1.8V297.0h-1.8zM867.6,274.7h1.8V297.0h-1.8zM868.6,261.3h1.8V289.6h-1.8zM869.6,261.3h1.8V280.7h-1.8zM870.6,236.7h1.8V283.6h-1.8zM871.6,211.6h1.8V274.7h-1.8zM872.6,208.6h1.8V248.0h-1.8zM873.6,201.2h1.8V222.0h-1.8zM874.6,201.2h1.8V213.0h-1.8zM875.6,188.0h1.8V208.6h-1.8zM876.6,186.4h1.8V207.0h-1.8zM877.6,167.2h1.8V204.0h-1.8zM878.6,167.2h1.8V193.8h-1.8zM879.6,177.5h1.8V196.8h-1.8zM880.6,179.0h1.8V196.8h-1.8zM881.6,159.0h1.8V196.8h-1.8zM882.6,174.6h1.8V213.0h-1.8zM883.6,193.8h1.8V216.0h-1.8zM884.6,174.6h1.8V222.0h-1.8zM885.6,177.5h1.8V233.8h-1.8zM886.6,156.8h1.8V186.4h-1.8zM887.6,151.0h1.8V174.6h-1.8zM888.6,149.4h1.8V159.8h-1.8zM889.6,131.4h1.8V159.8h-1.8zM890.6,131.4h1.8V156.8h-1.8zM891.6,128.4h1.8V155.4h-1.8zM892.6,127.0h1.8V146.5h-1.8zM893.6,81.0h1.8V132.8h-1.8zM894.6,72.2h1.8V95.9h-1.8zM895.6,72.2h1.8V81.0h-1.8zM896.6,61.8h1.8V79.6h-1.8zM897.6,61.0h1.8V79.6h-1.8zM898.6,61.0h1.8V79.6h-1.8z" fill="#00BFC4"/>
<text x="69.8" y="587.85" font-size="18.33" fill="#4D4D4D" text-anchor="end">0</text><text x="69.8" y="442.85" font-size="18.33" fill="#4D4D4D" text-anchor="end">50</text><text x="69.8" y="296.85" font-size="18.33" fill="#4D4D4D" text-anchor="end">100</text><text x="69.8" y="151.85" font-size="18.33" fill="#4D4D4D" text-anchor="end">150</text><text x="118.85" y="630.9" font-size="18.33" fill="#4D4D4D" text-anchor="middle">2000</text><text x="440.75" y="630.9" font-size="18.33" fill="#4D4D4D" text-anchor="middle">2010</text><text x="763.5" y="630.9" font-size="18.33" fill="#4D4D4D" text-anchor="middle">2020</text><text transform="translate(508.6,658.9) scale(1,1.08)" font-size="22.92" fill="#000" text-anchor="middle">Date</text><text transform="translate(29.8,309.3) rotate(-90) scale(1,1.08)" font-size="22.92" fill="#000" text-anchor="middle" textLength="186.9" lengthAdjust="spacing">Last Closing Price</text><text transform="translate(971.4,277.05) scale(1,1.08)" font-size="22.92" fill="#000" textLength="56.7" lengthAdjust="spacing">name</text><text x="1019.7" y="315.9" font-size="18.33" fill="#000" textLength="146.0" lengthAdjust="spacing">Alphabet (Google)</text><text x="1019.7" y="351.85" font-size="18.33" fill="#000" textLength="157.6" lengthAdjust="spacing">AMAZON COM INC</text><rect x="975.9" y="307" width="29.1" height="2" fill="#F8766D"/><rect x="975.9" y="343" width="29.1" height="2" fill="#00BFC4"/>
</svg>
</body></html>
